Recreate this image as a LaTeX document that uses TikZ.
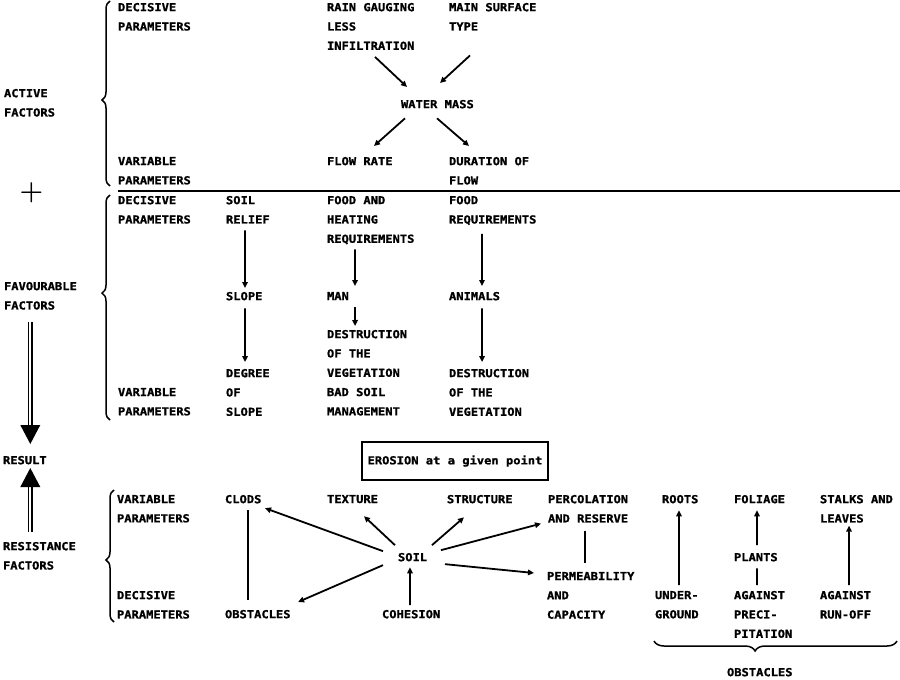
\documentclass[tikz,border=0pt]{standalone}
\usepackage{fontspec}
\newfontfamily\dmono[FakeStretch=1.1,FakeBold=1.2]{DejaVu Sans Mono}
\usetikzlibrary{arrows.meta,decorations.pathreplacing}
\begin{document}
\begin{tikzpicture}[x=1pt,y=-1pt,
  lbl/.style={anchor=north west, inner sep=0pt, outer sep=0pt, align=left, yshift=4pt,
              font=\dmono\bfseries\fontsize{11}{19.3}\selectfont},
  arr/.style={line width=1.8pt, -{Triangle[length=6pt,width=5.5pt]}},
  ln/.style={line width=1.8pt},
  brc/.style={line width=1.5pt, decorate, decoration={brace, amplitude=8pt, aspect=#1}},
  dbl/.style={line width=1.5pt, double=white, double distance=2pt},
  bigtip/.style={fill=black}
]
\fill[white] (0,0) rectangle (900,680);
\useasboundingbox (0,0) rectangle (900,680);

% ---------- ACTIVE FACTORS ----------
\node[lbl] (active) at (4,93) {ACTIVE\\FACTORS};
\node[lbl] (dp1) at (118,7) {DECISIVE\\PARAMETERS};
\node[lbl] (vp1) at (118,161) {VARIABLE\\PARAMETERS};
\node[lbl] (rain) at (327,7) {RAIN GAUGING\\LESS\\INFILTRATION};
\node[lbl] (main) at (449,7) {MAIN SURFACE\\TYPE};
\node[lbl] (water) at (401,104) {WATER MASS};
\node[lbl] (flow) at (327,161) {FLOW RATE};
\node[lbl] (dur) at (449,161) {DURATION OF\\FLOW};

\draw[arr] ([shift={(4.3,7)}]rain.south) -- ([shift={(-30.4,-13)}]water.north);
\draw[arr] ([shift={(21,25)}]main.south west) -- ([shift={(2.6,-17)}]water.north);
\draw[arr] ([shift={(-32.4,10)}]water.south) -- ([shift={(14.2,-11)}]flow.north);
\draw[arr] ([shift={(-0.4,10)}]water.south) -- ([shift={(20,-11)}]dur.north west);

\draw[brc=0.465] (110,186) -- (110,1);

% plus sign and separator
\node[inner sep=0pt, font=\bfseries\fontsize{27}{27}\selectfont] (plus) at (31.5,193) {+};
\coordinate (sepL) at (118,190.5);
\coordinate (sepR) at (900,190.5);
\draw[line width=2pt] (sepL) -- (sepR);

% ---------- FAVOURABLE FACTORS ----------
\node[lbl] (fav) at (4,286) {FAVOURABLE\\FACTORS};
\node[lbl] (dp2) at (118,200) {DECISIVE\\PARAMETERS};
\node[lbl] (vp2) at (118,392) {VARIABLE\\PARAMETERS};
\node[lbl] (soilrel) at (226,200) {SOIL\\RELIEF};
\node[lbl] (slope) at (226,296) {SLOPE};
\node[lbl] (degree) at (226,373) {DEGREE\\OF\\SLOPE};
\node[lbl] (food) at (327,200) {FOOD AND\\HEATING\\REQUIREMENTS};
\node[lbl] (man) at (327,296) {MAN};
\node[lbl] (destr) at (327,334) {DESTRUCTION\\OF THE\\VEGETATION\\BAD SOIL\\MANAGEMENT};
\node[lbl] (foodreq) at (449,200) {FOOD\\REQUIREMENTS};
\node[lbl] (animals) at (449,296) {ANIMALS};
\node[lbl] (destr2) at (449,373) {DESTRUCTION\\OF THE\\VEGETATION};

\draw[arr] ([shift={(-2.8,7)}]soilrel.south) -- ([shift={(0.8,-4)}]slope.north);
\draw[arr] ([shift={(0.8,8)}]slope.south) -- ([shift={(-2.8,-7)}]degree.north);
\draw[arr] ([shift={(-15.7,5)}]food.south) -- ([shift={(17.1,-6)}]man.north);
\draw[arr] ([shift={(17.1,7)}]man.south) -- ([shift={(-12,-4)}]destr.north);
\draw[arr] ([shift={(-10.7,9)}]foodreq.south) -- ([shift={(7.5,-6)}]animals.north);
\draw[arr] ([shift={(7.5,8)}]animals.south) -- ([shift={(-7,-7)}]destr2.north);

\draw[brc=0.564] (110,420) -- (110,195);

% ---------- RESULT ----------
\node[lbl] (result) at (3,460) {RESULT};
\node[lbl] (resist) at (3,546) {RESISTANCE\\FACTORS};
\coordinate (dA) at (30.3,322);
\coordinate (dB) at (30.3,427);
\draw[dbl] (dA) -- (dB);
\fill[bigtip] (20.3,425) -- (40.3,425) -- (30.3,444) -- cycle;
\coordinate (uA) at (30.3,532);
\coordinate (uB) at (30.3,485);
\draw[dbl] (uA) -- (uB);
\fill[bigtip] (20.3,487) -- (40.3,487) -- (30.3,468) -- cycle;

\node[draw, line width=1.6pt, minimum width=186pt, minimum height=38pt, inner sep=0pt,
      font=\dmono\bfseries\fontsize{11}{19.3}\selectfont] (erosion) at (455,461) {EROSION at a given point};

% ---------- RESISTANCE FACTORS ----------
\node[lbl] (vp3) at (117,499) {VARIABLE\\PARAMETERS};
\node[lbl] (dp3) at (117,595) {DECISIVE\\PARAMETERS};
\node[lbl] (clods) at (225,499) {CLODS};
\node[lbl] (obst) at (225,614) {OBSTACLES};
\node[lbl] (texture) at (327,499) {TEXTURE};
\node[lbl] (structure) at (447,499) {STRUCTURE};
\node[lbl] (percol) at (548,499) {PERCOLATION\\AND RESERVE};
\node[lbl] (soil) at (398,557) {SOIL};
\node[lbl] (cohesion) at (382,614) {COHESION};
\node[lbl] (perm) at (547,576) {PERMEABILITY\\AND\\CAPACITY};

\draw[arr] ([shift={(-29.6,-6)}]soil.center) -- ([shift={(3.6,9)}]clods.east);
\draw[arr] ([shift={(-17.6,-12)}]soil.center) -- ([shift={(11.5,13)}]texture.south);
\draw[arr] ([shift={(19.4,-12)}]soil.center) -- ([shift={(-15.8,14)}]structure.south);
\draw[arr] ([shift={(28.4,-7)}]soil.center) -- ([shift={(-7,1)}]percol.south west);
\draw[arr] ([shift={(32.4,7)}]soil.center) -- ([shift={(-13,1)}]perm.north west);
\draw[arr] ([shift={(-29.6,8)}]soil.center) -- ([shift={(7.5,-8)}]obst.north east);
\draw[arr] ([shift={(-1.1,-5)}]cohesion.north) -- ([shift={(-2.6,6)}]soil.south);
\draw[ln, shorten <=7pt, shorten >=10pt] ([xshift=4.8pt]clods.south) -- ([xshift=4.8pt]clods.south |- obst.north);
\draw[ln, shorten <=8pt, shorten >=9pt] ([xshift=-3pt]percol.south) -- ([xshift=-3pt]percol.south |- perm.north);

\draw[brc=0.47] (114,622) -- (114,490);

% plants
\node[lbl] (roots) at (662,499) {ROOTS};
\node[lbl] (foliage) at (734,499) {FOLIAGE};
\node[lbl] (stalks) at (820,499) {STALKS AND\\LEAVES};
\node[lbl] (plants) at (734,557) {PLANTS};
\node[lbl] (under) at (655,595) {UNDER-\\GROUND};
\node[lbl] (agprec) at (734,595) {AGAINST\\PRECI-\\PITATION};
\node[lbl] (agrun) at (820,595) {AGAINST\\RUN-OFF};
\node[lbl] (obst2) at (727,672) {OBSTACLES};

\draw[arr] ([shift={(2.2,-6)}]under.north) -- ([shift={(-1.2,7)}]roots.south);
\draw[arr] ([shift={(1.2,-8)}]plants.north) -- ([shift={(-2.5,7)}]foliage.south);
\draw[ln] ([shift={(1.2,7)}]plants.south) -- ([shift={(-6.1,-6)}]agprec.north);
\draw[arr] ([shift={(3.5,-6)}]agrun.north) -- ([shift={(-7.4,3)}]stalks.south);

\draw[brc=0.584, decoration={amplitude=10pt}] (897,641) -- (654,641);
\end{tikzpicture}
\end{document}
